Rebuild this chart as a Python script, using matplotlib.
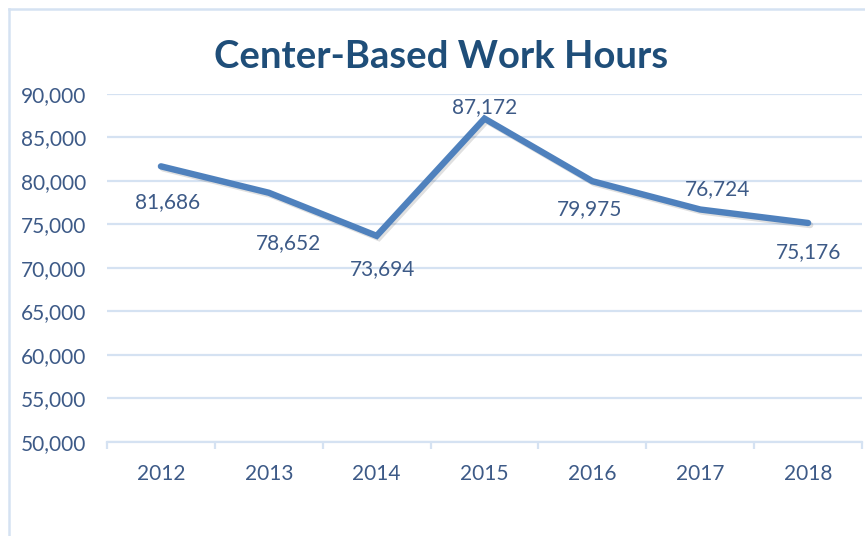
import matplotlib
matplotlib.use("Agg")
import matplotlib.pyplot as plt
import matplotlib.patheffects as pe
from matplotlib.lines import Line2D

years = ["2012", "2013", "2014", "2015", "2016", "2017", "2018"]
hours = [81686, 78652, 73694, 87172, 79975, 76724, 75176]
yticks = [50000, 55000, 60000, 65000, 70000, 75000, 80000, 85000, 90000]
title = "Center-Based Work Hours"

# label offsets in pixels (dx, dy up-positive) -- styling only
label_offsets = [(7, -36), (20, -50), (6, -33), (0, 12), (-3, -28), (17, 20), (0, -29)]

plt.rcParams['font.family'] = ['Lato', 'DejaVu Sans']
DPI = 100
fig = plt.figure(figsize=(8.65, 5.36), dpi=DPI)
W, H = 865, 536
ax = fig.add_axes([107 / W, 1 - 442 / H, (862 - 107) / W, (442 - 94) / H])

grid_c = "#D5E2F2"
text_c = "#3D5A87"
line_c = "#4F81BD"

x = list(range(len(years)))
ax.plot(x, hours, color=line_c, lw=4.6, solid_capstyle='round', solid_joinstyle='miter',
        path_effects=[pe.SimpleLineShadow(offset=(1.5, -1.5), alpha=0.12, shadow_color='black'), pe.Normal()],
        zorder=3)

for i, (v, (dx, dy)) in enumerate(zip(hours, label_offsets)):
    ax.annotate(f"{v:,}", (i, v), xytext=(dx * 72 / DPI, dy * 72 / DPI), textcoords='offset points',
                ha='center', va='center', fontsize=15, color=text_c, zorder=4)

ax.set_xlim(-0.5, len(years) - 0.5)
ax.set_ylim(yticks[0], yticks[-1])
ax.set_yticks(yticks)
ax.set_yticklabels([f"{t:,}" for t in yticks])
ax.set_xticks(x)
ax.set_xticklabels(years)
ax.set_xticks([i - 0.5 for i in range(len(years) + 1)], minor=True)

ax.grid(axis='y', color=grid_c, lw=1.6, zorder=0)
for s in ['top', 'right', 'left']:
    ax.spines[s].set_visible(False)
ax.spines['bottom'].set_color(grid_c)
ax.spines['bottom'].set_linewidth(1.6)
ax.tick_params(axis='y', length=0, pad=15, labelsize=15, labelcolor=text_c)
ax.tick_params(axis='x', which='major', length=0, pad=16, labelsize=15, labelcolor=text_c)
ax.tick_params(axis='x', which='minor', length=5, width=1.6, color=grid_c)

fig.text(441 / W, 1 - 57 / H, title, ha='center', va='center', fontsize=27.5, fontweight='bold', color="#1F4E79")

# outer chart frame (cropped on right/bottom)
fig.add_artist(Line2D([9 / W, 9 / W], [0, 1 - 9 / H], transform=fig.transFigure, color=grid_c, lw=1.8))
fig.add_artist(Line2D([9 / W, 1], [1 - 9 / H, 1 - 9 / H], transform=fig.transFigure, color=grid_c, lw=1.8))

fig.savefig("out.png", dpi=DPI, facecolor='white')
